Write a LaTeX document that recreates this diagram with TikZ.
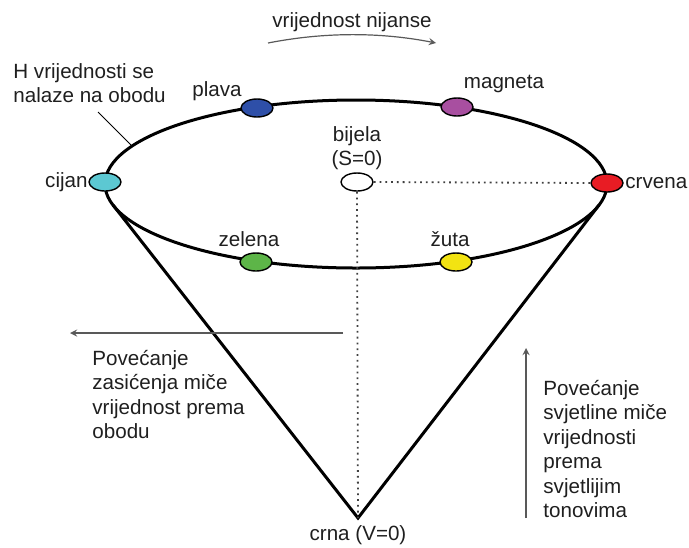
\documentclass[tikz,border=0pt]{standalone}
\usepackage{fontspec}
\setmainfont{Liberation Sans}
\usetikzlibrary{shapes.geometric, arrows, positioning}
\definecolor{plavac}{HTML}{2E4FA8}
\definecolor{magentac}{HTML}{A84FA0}
\definecolor{cijanc}{HTML}{5CC8D2}
\definecolor{crvenac}{HTML}{E81C24}
\definecolor{zelenac}{HTML}{5DB548}
\definecolor{zutac}{HTML}{F2E312}
\tikzstyle{hue} = [ellipse, draw=black, line width=0.7pt, minimum width=16pt, minimum height=9pt, inner sep=0pt]
\tikzstyle{txt} = [text=black!88, inner sep=0pt, font=\fontsize{10.3}{12.2}\selectfont]
\tikzstyle{rim} = [line width=1.5pt, black]
\tikzstyle{guide} = [dotted, line width=0.9pt, black!75]
\tikzstyle{hint} = [black!65, line width=0.6pt, ->, >=stealth]

\begin{document}
\begin{tikzpicture}[x=0.5pt, y=-0.5pt]

    \useasboundingbox (0,0) rectangle (689,547);

    % cone: rim and sides
    \coordinate (apex) at (358,518);
    \coordinate (tanL) at (113,205);
    \coordinate (tanR) at (599,205);
    \draw [rim] (356,184) ellipse [x radius=251, y radius=84];
    \draw [rim, line join=miter] (tanL) -- (apex) -- (tanR);

    % hue markers
    \node (plava) [hue, fill=plavac] at (257,108) {};
    \node (magneta) [hue, fill=magentac] at (457,107) {};
    \node (cijan) [hue, fill=cijanc] at (105,182) {};
    \node (crvena) [hue, fill=crvenac] at (607,183) {};
    \node (zelena) [hue, fill=zelenac] at (256,262) {};
    \node (zuta) [hue, fill=zutac] at (456,262) {};
    \node (bijela) [hue, fill=white] at (357,182) {};

    \draw [guide] (bijela.east) -- (crvena.west);
    \draw [guide] (bijela.south) -- (apex);

    % labels
    \node (plava_t) [txt] at (217,91) {plava};
    \node (magneta_t) [txt] at (504,84) {magneta};
    \node (cijan_t) [txt, anchor=east] at (88,182) {cijan};
    \node (crvena_t) [txt, anchor=west] at (625,183) {crvena};
    \node (zelena_t) [txt] at (249,239) {zelena};
    \node (zuta_t) [txt] at (450,239) {žuta};
    \node (bijela_t) [txt, align=center] at (357,148) {bijela\\(S=0)};
    \node (crna_t) [txt] at (358,535) {crna (V=0)};

    % hue direction
    \node (hue_t) [txt] at (352,22) {vrijednost nijanse};
    \coordinate (hueA) at (268,43);
    \coordinate (hueB) at (436,43);
    \draw [hint] (hueA) .. controls (324,32) and (380,32) .. (hueB);

    % rim note
    \node (obod_t) [txt, align=left, anchor=north west] at (13,63) {H vrijednosti se\\nalaze na obodu};
    \coordinate (leadA) at (98,112);
    \coordinate (leadB) at (132,146);
    \draw [line width=0.5pt] (leadA) -- (leadB);

    % saturation
    \coordinate (satA) at (343,333);
    \coordinate (satB) at (70,333);
    \draw [hint] (satA) -- (satB);
    \node (sat_t) [txt, align=left, anchor=north west] at (92,350) {Povećanje\\zasićenja miče\\vrijednost prema\\obodu};

    % value
    \coordinate (valA) at (526,518);
    \coordinate (valB) at (526,348);
    \draw [hint] (valA) -- (valB);
    \node (val_t) [txt, align=left, anchor=north west] at (543,380) {Povećanje\\svjetline miče\\vrijednosti\\prema\\svjetlijim\\tonovima};

\end{tikzpicture}
\end{document}
